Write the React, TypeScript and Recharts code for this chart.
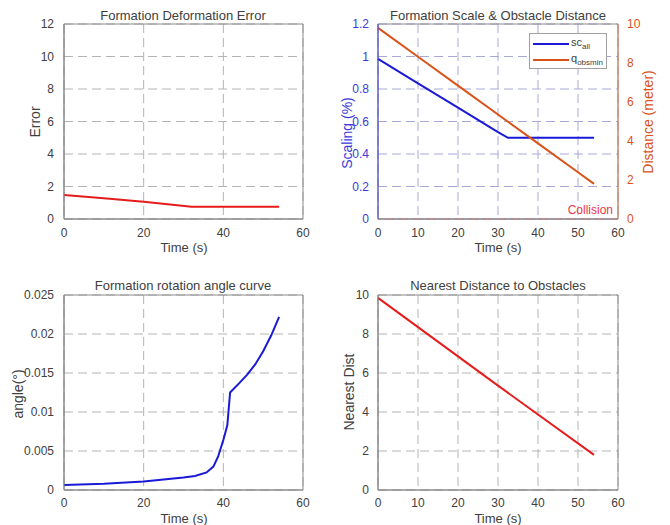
import React from "react";
import {
  LineChart,
  Line,
  XAxis,
  YAxis,
  CartesianGrid,
  ReferenceArea,
  ReferenceLine,
} from "recharts";

// --- data ---
const errTime = [0, 10, 20, 32, 40, 54];
const errValues = [1.48, 1.27, 1.06, 0.76, 0.76, 0.76];

const scaleTime = [0, 10, 20, 30, 32.5, 40, 50, 54];
const scAll = [0.985, 0.835, 0.685, 0.535, 0.5, 0.5, 0.5, 0.5];
const qObsmin = [9.8, 8.32, 6.84, 5.36, 4.99, 3.88, 2.4, 1.8];

const angleTime = [0, 10, 20, 30, 32.9, 35.8, 37.5, 38.7, 40, 41, 41.7, 44, 46, 48, 50, 52, 54];
const angleValues = [
  0.00065, 0.0008, 0.0011, 0.0016, 0.0018, 0.00225, 0.003, 0.0043, 0.0064, 0.0083, 0.0125,
  0.0137, 0.0148, 0.0161, 0.0178, 0.0198, 0.0222,
];

const distTime = [0, 10, 20, 30, 40, 54];
const distValues = [9.85, 8.35, 6.85, 5.35, 3.87, 1.8];

const ticksX20 = [0, 20, 40, 60];
const ticksX10 = [0, 10, 20, 30, 40, 50, 60];
const errTicks = [0, 2, 4, 6, 8, 10, 12];
const scaleTicks = [0, 0.2, 0.4, 0.6, 0.8, 1, 1.2];
const distTicks = [0, 2, 4, 6, 8, 10];
const angleTicks = [0, 0.005, 0.01, 0.015, 0.02, 0.025];

const errData = errTime.map((t, i) => ({ t, err: errValues[i] }));
const scaleData = scaleTime.map((t, i) => ({ t, sc: scAll[i], q: qObsmin[i] }));
const angleData = angleTime.map((t, i) => ({ t, angle: angleValues[i] }));
const distData = distTime.map((t, i) => ({ t, dist: distValues[i] }));

const FONT = "'Liberation Sans', Arial, sans-serif";
const TXT = "#404040";
const AXIS = "#8a8a8a";
const GRID = "#b4b4b4";
const BLUE = "#1a1ad6";
const ORANGE = "#d95319";
const RED = "#e61c1c";

const tickStyle = { fill: TXT, fontSize: 12, fontFamily: FONT };

function Label({ x, y, rot, color, size, children }: any) {
  return (
    <div
      style={{
        position: "absolute",
        left: x,
        top: y,
        transform: `translate(-50%, -50%)${rot ? " rotate(-90deg)" : ""}`,
        whiteSpace: "nowrap",
        color: color || TXT,
        fontSize: size || 13,
        fontFamily: FONT,
      }}
    >
      {children}
    </div>
  );
}

function LegendBox() {
  const row = (color: string, main: string, sub: string) => (
    <div style={{ display: "flex", alignItems: "center", height: 16 }}>
      <svg width={38} height={4} style={{ display: "block" }}>
        <line x1={0} y1={2} x2={36} y2={2} stroke={color} strokeWidth={2} />
      </svg>
      <span style={{ lineHeight: "12px" }}>
        {main}
        <sub style={{ fontSize: 8, verticalAlign: "-3px" }}>{sub}</sub>
      </span>
    </div>
  );
  return (
    <div
      style={{
        position: "absolute",
        left: 529,
        top: 33,
        border: "1px solid #a0a0a0",
        background: "#fff",
        width: 78,
        height: 36,
        boxSizing: "border-box",
        fontFamily: FONT,
        fontSize: 11,
        color: TXT,
        padding: "2px 0 0 3px",
      }}
    >
      {row(BLUE, "sc", "all")}
      {row(ORANGE, "q", "obsmin")}
    </div>
  );
}

export default function App() {
  return (
    <div
      style={{
        position: "absolute",
        left: 0,
        top: 0,
        width: 670,
        height: 525,
        background: "#fff",
        fontFamily: FONT,
        overflow: "hidden",
      }}
    >
      {/* top-left: deformation error */}
      <div style={{ position: "absolute", left: 0, top: 0 }}>
        <LineChart width={335} height={262} data={errData} margin={{ top: 24, right: 32, left: 24, bottom: 23 }}>
          <CartesianGrid stroke={GRID} strokeDasharray="9 5" />
          <XAxis
            type="number"
            dataKey="t"
            domain={[0, 60]}
            ticks={ticksX20}
            tick={tickStyle}
            tickLine={false}
            tickMargin={3}
            height={20}
            stroke={AXIS}
          />
          <YAxis
            type="number"
            domain={[0, 12]}
            ticks={errTicks}
            tick={tickStyle}
            tickLine={false}
            tickMargin={4}
            width={40}
            stroke={AXIS}
          />
          <ReferenceArea x1={0} x2={60} y1={0} y2={12} fill="none" stroke={AXIS} />
          <Line type="linear" dataKey="err" stroke={RED} strokeWidth={2} dot={false} isAnimationActive={false} />
        </LineChart>
      </div>

      {/* top-right: scale & obstacle distance */}
      <div style={{ position: "absolute", left: 335, top: 0 }}>
        <LineChart width={335} height={262} data={scaleData} margin={{ top: 24, right: 22, left: 3, bottom: 23 }}>
          <CartesianGrid yAxisId="left" stroke="#a8a8d8" strokeDasharray="9 5" />
          <XAxis
            type="number"
            dataKey="t"
            domain={[0, 60]}
            ticks={ticksX10}
            tick={tickStyle}
            tickLine={false}
            tickMargin={3}
            height={20}
            stroke={AXIS}
          />
          <YAxis
            yAxisId="left"
            type="number"
            domain={[0, 1.2]}
            ticks={scaleTicks}
            tick={{ ...tickStyle, fill: "#3b3bdc" }}
            tickLine={false}
            tickMargin={3}
            width={40}
            stroke="#4848e0"
          />
          <YAxis
            yAxisId="right"
            orientation="right"
            type="number"
            domain={[0, 10]}
            ticks={distTicks}
            tick={{ ...tickStyle, fill: ORANGE }}
            tickLine={false}
            tickMargin={3}
            width={30}
            stroke="#e0875f"
          />
          <ReferenceArea yAxisId="left" x1={0} x2={60} y1={0} y2={1.2} fill="none" stroke={AXIS} />
          <ReferenceLine
            yAxisId="right"
            y={0}
            stroke="#f07070"
            strokeDasharray="9 5"
            label={{ value: "Collision", position: "insideBottomRight", offset: 5, fill: "#e8364a", fontSize: 12, fontFamily: FONT }}
          />
          <Line yAxisId="left" type="linear" dataKey="sc" stroke={BLUE} strokeWidth={2} dot={false} isAnimationActive={false} />
          <Line yAxisId="right" type="linear" dataKey="q" stroke={ORANGE} strokeWidth={2} dot={false} isAnimationActive={false} />
        </LineChart>
      </div>
      <LegendBox />

      {/* bottom-left: rotation angle */}
      <div style={{ position: "absolute", left: 0, top: 262 }}>
        <LineChart width={335} height={263} data={angleData} margin={{ top: 33, right: 32, left: 24, bottom: 15 }}>
          <CartesianGrid stroke={GRID} strokeDasharray="9 5" />
          <XAxis
            type="number"
            dataKey="t"
            domain={[0, 60]}
            ticks={ticksX20}
            tick={tickStyle}
            tickLine={false}
            tickMargin={2}
            height={20}
            stroke={AXIS}
          />
          <YAxis
            type="number"
            domain={[0, 0.025]}
            ticks={angleTicks}
            tick={tickStyle}
            tickLine={false}
            tickMargin={4}
            width={40}
            stroke={AXIS}
          />
          <ReferenceArea x1={0} x2={60} y1={0} y2={0.025} fill="none" stroke={AXIS} />
          <Line type="linear" dataKey="angle" stroke={BLUE} strokeWidth={2} dot={false} isAnimationActive={false} />
        </LineChart>
      </div>

      {/* bottom-right: nearest distance */}
      <div style={{ position: "absolute", left: 335, top: 262 }}>
        <LineChart width={335} height={263} data={distData} margin={{ top: 33, right: 52, left: 3, bottom: 15 }}>
          <CartesianGrid stroke={GRID} strokeDasharray="9 5" />
          <XAxis
            type="number"
            dataKey="t"
            domain={[0, 60]}
            ticks={ticksX10}
            tick={tickStyle}
            tickLine={false}
            tickMargin={2}
            height={20}
            stroke={AXIS}
          />
          <YAxis
            type="number"
            domain={[0, 10]}
            ticks={distTicks}
            tick={tickStyle}
            tickLine={false}
            tickMargin={3}
            width={40}
            stroke={AXIS}
          />
          <ReferenceArea x1={0} x2={60} y1={0} y2={10} fill="none" stroke={AXIS} />
          <Line type="linear" dataKey="dist" stroke={RED} strokeWidth={2} dot={false} isAnimationActive={false} />
        </LineChart>
      </div>

      {/* titles and axis labels */}
      <Label x={183} y={15}>Formation Deformation Error</Label>
      <Label x={184} y={247}>Time (s)</Label>
      <Label x={35} y={122} rot size={14}>Error</Label>

      <Label x={498} y={15}>Formation Scale &amp; Obstacle Distance</Label>
      <Label x={498} y={247}>Time (s)</Label>
      <Label x={347} y={133} rot size={14} color="#3b3bdc">Scaling (%)</Label>
      <Label x={648} y={122} rot size={14} color={ORANGE}>Distance (meter)</Label>

      <Label x={183} y={285}>Formation rotation angle curve</Label>
      <Label x={184} y={518}>Time (s)</Label>
      <Label x={18} y={394} rot size={14}>angle(°)</Label>

      <Label x={498} y={285}>Nearest Distance to Obstacles</Label>
      <Label x={498} y={518}>Time (s)</Label>
      <Label x={349} y={392} rot size={14}>Nearest Dist</Label>
    </div>
  );
}
